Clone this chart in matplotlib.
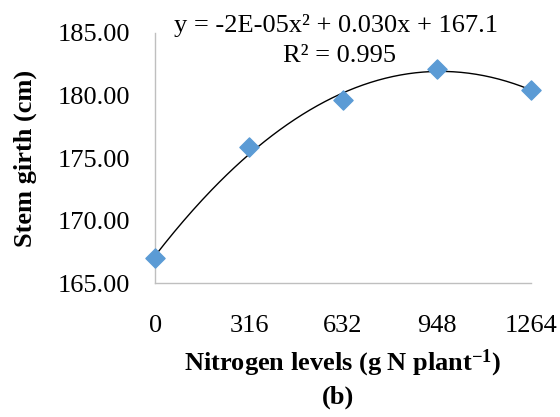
import numpy as np
import matplotlib
matplotlib.use('Agg')
import matplotlib.pyplot as plt

plt.rcParams['font.family'] = ['Liberation Serif', 'DejaVu Serif']
plt.rcParams['mathtext.default'] = 'regular'

# Data
n_levels = [0, 316, 632, 948, 1264]
stem_girth = [167.0, 175.86, 179.64, 182.12, 180.44]
y_ticks = [165, 170, 175, 180, 185]

fig = plt.figure(figsize=(5.6, 4.17), dpi=100)
ax = fig.add_axes([0.277, 0.321, 0.671, 0.600])

# Second-order polynomial trendline fitted to the points
coef = np.polyfit(n_levels, stem_girth, 2)
xs = np.linspace(min(n_levels), max(n_levels), 200)
ax.plot(xs, np.polyval(coef, xs), color='black', linewidth=1, zorder=2)

ax.scatter(n_levels, stem_girth, marker='D', s=95, color='#5B9BD5', zorder=3, clip_on=False)

ax.set_xlim(0, 1264)
ax.set_ylim(165, 185)
ax.set_xticks(n_levels)
ax.set_xticklabels([str(v) for v in n_levels])
ax.set_yticks(y_ticks)
ax.set_yticklabels([f'{v:.2f}' for v in y_ticks])
ax.tick_params(axis='both', length=0, labelsize=19)
ax.tick_params(axis='x', pad=23)
ax.tick_params(axis='y', pad=18)

for side in ['top', 'right']:
    ax.spines[side].set_visible(False)
for side in ['left', 'bottom']:
    ax.spines[side].set_color('#BFBFBF')
    ax.spines[side].set_linewidth(1)

fig.text(0.045, 0.621, 'Stem girth (cm)', rotation=90, ha='center', va='center',
         fontsize=19, fontweight='bold')
fig.text(0.612, 0.128, 'Nitrogen levels (g N plant$^{-1}$)', ha='center', va='center',
         fontsize=19, fontweight='bold')
fig.text(0.604, 0.047, '(b)', ha='center', va='center', fontsize=19, fontweight='bold')

fig.text(0.6, 0.94, 'y = -2E-05x² + 0.030x + 167.1', ha='center', va='center', fontsize=19)
fig.text(0.607, 0.866, 'R² = 0.995', ha='center', va='center', fontsize=19)

plt.savefig('out.png', dpi=100)
